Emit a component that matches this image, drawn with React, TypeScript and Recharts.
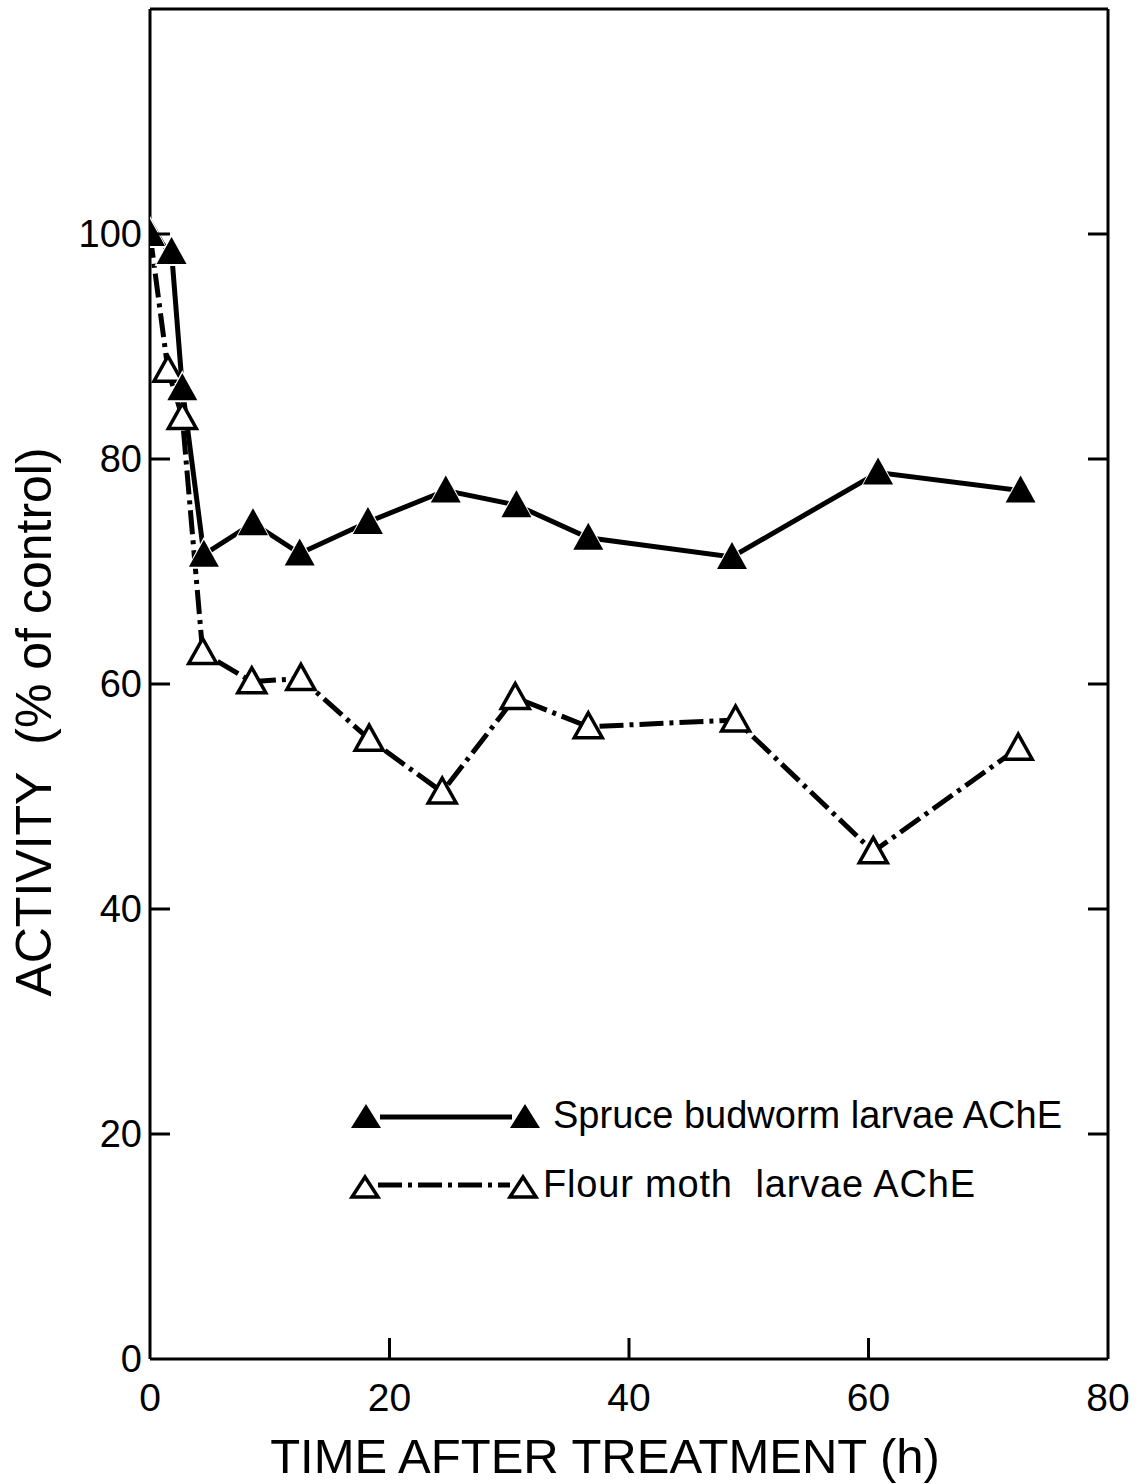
import React from 'react';
import { LineChart, Line, XAxis, YAxis, Legend, Label } from 'recharts';

// ---- data ----
const budwormTime = [0, 1.8, 2.7, 4.5, 8.6, 12.5, 18.2, 24.7, 30.6, 36.6, 48.6, 60.8, 72.7];
const budwormActivity = [100, 98.4, 86.3, 71.5, 74.3, 71.6, 74.4, 77.2, 75.9, 73.0, 71.3, 78.8, 77.2];
const mothTime = [0, 1.5, 2.7, 4.4, 8.5, 12.6, 18.3, 24.4, 30.5, 36.6, 48.9, 60.4, 72.5];
const mothActivity = [100, 87.9, 83.7, 62.8, 60.2, 60.5, 55.1, 50.4, 58.8, 56.2, 56.8, 45.1, 54.3];

const xTicks = [0, 20, 40, 60, 80];
const yTicks = [0, 20, 40, 60, 80, 100];
const innerXTicks = [20, 40, 60];
const innerYTicks = [20, 40, 60, 80, 100];

const budwormLabel = 'Spruce budworm larvae AChE';
const mothLabel = 'Flour moth  larvae AChE';
const xLabel = 'TIME AFTER TREATMENT (h)';
const yLabel = 'ACTIVITY  (% of control)';

const budwormData = budwormTime.map((t, i) => ({ t, v: budwormActivity[i] }));
const mothData = mothTime.map((t, i) => ({ t, v: mothActivity[i] }));

const FONT = '"Liberation Sans", Arial, Helvetica, sans-serif';
const DASH = '24 6 4 6';

const triPath = (cx: number, cy: number, hw: number, up: number, down: number) =>
  `M${cx},${cy - up} L${cx + hw},${cy + down} L${cx - hw},${cy + down} Z`;

const FilledTri = ({ cx, cy, hw = 15, up = 15, down = 12 }: any) => (
  <g>
    <path d={triPath(cx, cy, hw + 2, up + 3, down + 2)} fill="#fff" />
    <path d={triPath(cx, cy, hw, up, down)} fill="#000" />
  </g>
);

const OpenTri = ({ cx, cy, hw = 14, up = 14, down = 11 }: any) => (
  <path d={triPath(cx, cy, hw, up, down)} fill="#fff" stroke="#000" strokeWidth={3.5} strokeLinejoin="miter" />
);

const LeftTick = (props: any) => {
  const { x, y, payload } = props;
  return (
    <g>
      {innerYTicks.includes(payload.value) && (
        <line x1={x} y1={y} x2={x + 20} y2={y} stroke="#000" strokeWidth={3} />
      )}
      <text x={x - 8} y={y} dy={13} textAnchor="end" fontSize={38} fontFamily={FONT} fill="#000">
        {payload.value}
      </text>
    </g>
  );
};

const RightTick = (props: any) => {
  const { x, y } = props;
  return <line x1={x} y1={y} x2={x - 20} y2={y} stroke="#000" strokeWidth={3} />;
};

const BottomTick = (props: any) => {
  const { x, y, payload } = props;
  return (
    <g>
      {innerXTicks.includes(payload.value) && (
        <line x1={x} y1={y} x2={x} y2={y - 21} stroke="#000" strokeWidth={3} />
      )}
      <text x={x} y={y + 52} textAnchor="middle" fontSize={39} fontFamily={FONT} fill="#000">
        {payload.value}
      </text>
    </g>
  );
};

const TopTick = (props: any) => {
  const { x, y } = props;
  return <line x1={x} y1={y} x2={x} y2={y + 22} stroke="#000" strokeWidth={3} />;
};

const XTitle = (props: any) => {
  const { viewBox } = props;
  const cx = viewBox.x + viewBox.width / 2 - 24;
  return (
    <text x={cx} y={1473} textAnchor="middle" fontSize={49} fontFamily={FONT} fill="#000">
      {xLabel}
    </text>
  );
};

const YTitle = () => {
  const x = 51;
  const y = 722;
  return (
    <text
      x={x}
      y={y}
      transform={`rotate(-90, ${x}, ${y})`}
      textAnchor="middle"
      fontSize={50}
      fontFamily={FONT}
      fill="#000"
      style={{ whiteSpace: 'pre' }}
    >
      {yLabel}
    </text>
  );
};

const LegendBox = () => (
  <svg width={720} height={140} style={{ display: 'block', overflow: 'visible' }}>
    <line x1={40} y1={32} x2={172} y2={32} stroke="#000" strokeWidth={5} />
    <FilledTri cx={26} cy={32} hw={15} up={13} down={11} />
    <FilledTri cx={185} cy={32} hw={15} up={13} down={11} />
    <text x={213} y={43} fontSize={38} fontFamily={FONT} fill="#000">
      {budwormLabel}
    </text>
    <line x1={38} y1={100} x2={170} y2={100} stroke="#000" strokeWidth={5} strokeDasharray={DASH} />
    <OpenTri cx={25} cy={103} hw={13} up={11} down={9} />
    <OpenTri cx={183} cy={103} hw={13} up={11} down={9} />
    <text
      x={203}
      y={112}
      fontSize={38}
      fontFamily={FONT}
      fill="#000"
      textLength={432}
      lengthAdjust="spacing"
      style={{ whiteSpace: 'pre' }}
    >
      {mothLabel}
    </text>
  </svg>
);

export default function App() {
  return (
    <div style={{ position: 'absolute', left: 0, top: 0, background: '#fff' }}>
      <LineChart
        width={1146}
        height={1484}
        margin={{ top: 0, right: 0, bottom: 0, left: 0 }}
        style={{ overflow: 'visible' }}
      >
        <XAxis
          xAxisId="b"
          dataKey="t"
          type="number"
          domain={[0, 80]}
          ticks={xTicks}
          allowDataOverflow
          orientation="bottom"
          height={125}
          tickSize={0}
          tickMargin={0}
          tickLine={false}
          axisLine={{ stroke: '#000', strokeWidth: 3 }}
          tick={<BottomTick />}
          interval={0}
        >
          <Label content={<XTitle />} />
        </XAxis>
        <XAxis
          xAxisId="top"
          type="number"
          domain={[0, 80]}
          ticks={innerXTicks}
          allowDataOverflow
          orientation="top"
          height={9}
          tickSize={0}
          tickMargin={0}
          tickLine={false}
          axisLine={{ stroke: '#000', strokeWidth: 3 }}
          tick={<TopTick />}
          interval={0}
        />
        <YAxis
          yAxisId="l"
          type="number"
          domain={[0, 120]}
          ticks={yTicks}
          allowDataOverflow
          orientation="left"
          width={150}
          tickSize={0}
          tickMargin={0}
          tickLine={false}
          axisLine={{ stroke: '#000', strokeWidth: 3 }}
          tick={<LeftTick />}
          interval={0}
        >
          <Label content={<YTitle />} />
        </YAxis>
        <YAxis
          yAxisId="r"
          type="number"
          domain={[0, 120]}
          ticks={innerYTicks}
          allowDataOverflow
          orientation="right"
          width={38}
          tickSize={0}
          tickMargin={0}
          tickLine={false}
          axisLine={{ stroke: '#000', strokeWidth: 3 }}
          tick={<RightTick />}
          interval={0}
        />
        <Line
          xAxisId="b"
          yAxisId="l"
          data={mothData}
          dataKey="v"
          type="linear"
          stroke="#000"
          strokeWidth={5}
          strokeDasharray={DASH}
          isAnimationActive={false}
          dot={(p: any) => <OpenTri key={`m${p.index}`} cx={p.cx} cy={p.cy} />}
          activeDot={false}
          legendType="none"
        />
        <Line
          xAxisId="b"
          yAxisId="l"
          data={budwormData}
          dataKey="v"
          type="linear"
          stroke="#000"
          strokeWidth={5}
          isAnimationActive={false}
          dot={(p: any) => <FilledTri key={`b${p.index}`} cx={p.cx} cy={p.cy} />}
          activeDot={false}
          legendType="none"
        />
        <Legend
          layout="horizontal"
          verticalAlign="middle"
          align="center"
          content={<LegendBox />}
          wrapperStyle={{ position: 'absolute', left: 340, top: 1085, width: 720, height: 140, bottom: 'auto', right: 'auto' }}
        />
      </LineChart>
    </div>
  );
}
